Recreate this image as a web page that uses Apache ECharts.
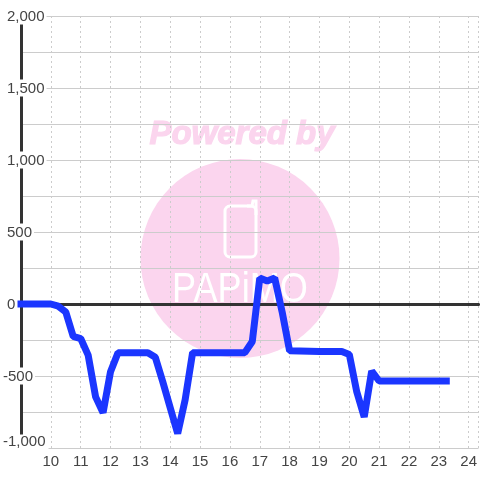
<!DOCTYPE html>
<html>
<head>
<meta charset="utf-8">
<style>
  html, body { margin: 0; padding: 0; background: #fff; }
</style>
<script src="https://cdn.jsdelivr.net/npm/echarts@6/dist/echarts.min.js"></script>
</head>
<body>
<div id="chart" style="width: 480px; height: 480px"></div>
<script>
const hours = [9, 10, 10.25, 10.5, 10.75, 11, 11.25, 11.5, 11.75, 12, 12.25, 13.25, 13.5, 13.75, 14, 14.25, 14.5, 14.75, 16.5, 16.75, 17, 17.25, 17.5, 17.75, 18, 19, 19.75, 20, 20.25, 20.5, 20.75, 21, 23.25];
const values = [0, 0, -15, -55, -225, -240, -355, -645, -755, -470, -338, -338, -370, -540, -720, -900, -665, -338, -338, -260, 180, 160, 180, -55, -325, -330, -330, -350, -610, -785, -465, -535, -535];

const myChart = echarts.init(document.getElementById("chart"));
const fontFamily = "'Liberation Sans', Arial, sans-serif";
const pink = "#fbd5ee";

myChart.setOption({
  animation: false,
  backgroundColor: "#fff",
  grid: { left: 20, right: 0, top: 16, bottom: 32 },
  graphic: [
    {
      type: "circle", silent: true, z: -10,
      shape: { cx: 240, cy: 258.5, r: 99.5 },
      style: { fill: pink }
    },
    {
      type: "text", silent: true, z: -10, x: 242, y: 135,
      style: {
        text: "Powered by", fill: pink, stroke: pink, lineWidth: 1.2, align: "center", verticalAlign: "middle",
        font: "italic bold 33px " + fontFamily
      }
    },
    {
      type: "rect", silent: true, z: -9,
      shape: { x: 225, y: 206, width: 31, height: 51, r: 5 },
      style: { fill: "none", stroke: "#fff", lineWidth: 3 }
    },
    {
      type: "polyline", silent: true, z: -9,
      shape: { points: [[247, 206], [252, 206], [253, 201], [256, 201], [256, 215]] },
      style: { fill: "none", stroke: "#fff", lineWidth: 3 }
    },
    {
      type: "text", silent: true, z: -9, x: 240, y: 290, scaleX: 0.84,
      style: {
        text: "PAPiMO", fill: "#fff", align: "center", verticalAlign: "middle",
        font: "43px 'Liberation Sans', sans-serif"
      }
    }
  ],
  xAxis: [
    {
      type: "value", min: 9, max: 24.33, interval: 1,
      axisLine: { show: false, onZero: false }, axisTick: { show: false },
      axisLabel: {
        margin: 6, fontSize: 15, color: "#444", fontFamily: fontFamily,
        showMinLabel: false, showMaxLabel: false,
        formatter: function (v) { return Number.isInteger(v) ? String(v) : ""; }
      },
      splitLine: { show: true, lineStyle: { color: "#ccc", type: [2, 3], width: 1 } }
    },
    {
      // the heavy line at zero, labels stay on the first axis
      type: "value", min: 9, max: 24.33, interval: 1, position: "top",
      axisLine: { show: true, onZero: true, lineStyle: { color: "#333", width: 3 } },
      axisTick: { show: false }, axisLabel: { show: false }, splitLine: { show: false }
    }
  ],
  yAxis: {
    type: "value", min: -1000, max: 2000, interval: 250,
    axisLine: { show: true, onZero: false, lineStyle: { color: "#333", width: 3 } },
    axisTick: { show: false },
    axisLabel: {
      margin: 18, align: "left", fontSize: 15, color: "#444", fontFamily: fontFamily,
      formatter: function (v) {
        if (v % 500 !== 0) return "";
        const s = v.toLocaleString("en-US");
        if (v === -1000) return "{low|" + s + "}";
        return (v < 0 ? "{neg|" : "{pos|") + s + "}";
      },
      rich: {
        pos: { fontSize: 15, color: "#444", backgroundColor: "#fff", padding: [2, 2, 0, 4], lineHeight: 12 },
        neg: { fontSize: 15, color: "#444", backgroundColor: "#fff", padding: [2, 2, 0, 0], lineHeight: 12 },
        low: { fontSize: 15, color: "#444", backgroundColor: "#fff", padding: [0, 3, 12, 0], lineHeight: 14 }
      }
    },
    splitLine: { show: true, lineStyle: { color: "#ccc", width: 1 } }
  },
  series: [
    {
      type: "line", xAxisIndex: 0, yAxisIndex: 0, showSymbol: false, smooth: false,
      clip: false, z: 5,
      lineStyle: { color: "#1b36ff", width: 7, cap: "square", join: "bevel" },
      data: hours.map((h, i) => [h, values[i]])
    }
  ]
});
</script>
</body>
</html>
